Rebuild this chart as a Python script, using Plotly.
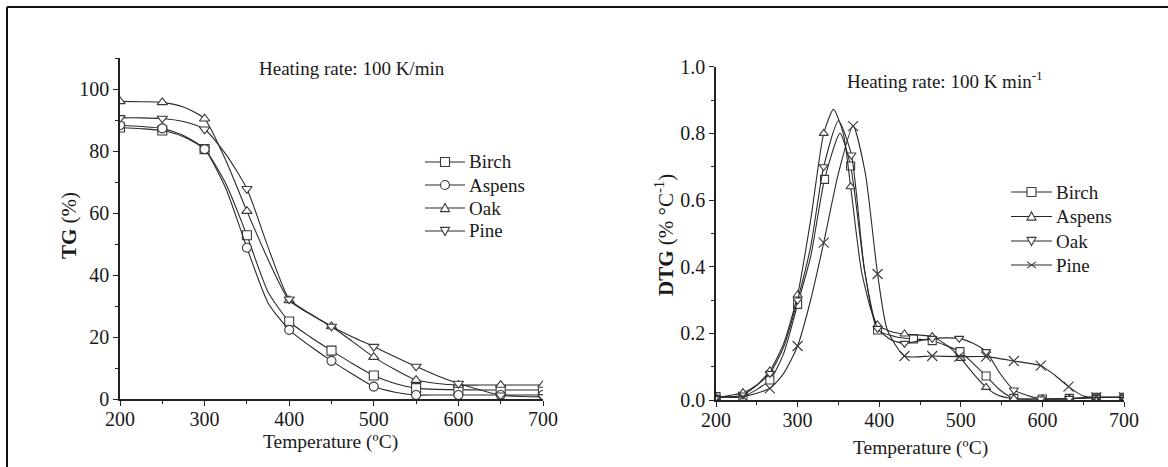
import plotly.graph_objects as go

# ---------------- TG data (left panel) ----------------
tg_T = [200, 225, 250, 275, 300, 325, 350, 375, 400, 425, 450, 475, 500, 525, 550, 575, 600, 625, 650, 675, 700]
tg_birch = [87.6, 87.2, 86.6, 84.6, 80.6, 69.5, 52.8, 34.5, 25.0, 20.0, 15.6, 11.4, 7.6, 5.0, 3.5, 3.1, 3.0, 2.9, 2.9, 2.9, 2.9]
tg_aspens = [88.3, 87.9, 87.3, 85.0, 80.6, 68.0, 48.8, 31.0, 22.3, 17.0, 12.3, 8.0, 4.0, 2.2, 1.3, 1.3, 1.3, 1.3, 1.3, 1.3, 1.3]
tg_oak = [96.0, 95.9, 95.7, 94.2, 90.4, 77.0, 60.6, 45.0, 31.8, 27.3, 23.4, 18.5, 13.5, 9.5, 6.1, 5.0, 4.5, 4.5, 4.5, 4.5, 4.5]
tg_pine = [90.7, 90.7, 90.5, 89.5, 87.0, 79.0, 67.8, 49.0, 32.2, 27.5, 23.4, 20.0, 16.9, 13.6, 10.5, 7.5, 5.0, 3.0, 1.2, 0.8, 0.7]
tg_marker_T = [200, 250, 300, 350, 400, 450, 500, 550, 600, 650, 700]

# ---------------- DTG data (right panel) ----------------
dtg_birch_T = [200, 233, 266, 283, 300, 316, 333, 352, 365, 382, 398, 420, 442, 465, 499, 515, 531, 548, 565, 600, 633, 666, 700]
dtg_birch = [0.01, 0.01, 0.06, 0.14, 0.287, 0.43, 0.662, 0.80, 0.702, 0.39, 0.21, 0.19, 0.183, 0.178, 0.145, 0.11, 0.072, 0.03, 0.005, 0.003, 0.005, 0.008, 0.008]
dtg_birch_marks = [200, 233, 266, 300, 333, 365, 398, 442, 465, 499, 531, 565, 600, 633, 666, 700]

dtg_aspens_T = [200, 233, 250, 266, 283, 300, 316, 332, 344, 356, 365, 378, 390, 398, 415, 431, 465, 485, 500, 515, 531, 545, 565, 600, 633, 666, 700]
dtg_aspens = [0.008, 0.022, 0.045, 0.087, 0.17, 0.315, 0.54, 0.80, 0.872, 0.80, 0.64, 0.39, 0.27, 0.225, 0.205, 0.198, 0.19, 0.16, 0.125, 0.08, 0.038, 0.015, 0.004, 0.003, 0.003, 0.008, 0.008]
dtg_aspens_marks = [200, 233, 266, 300, 332, 365, 398, 431, 465, 500, 531, 565, 600, 633, 666, 700]

dtg_oak_T = [200, 233, 266, 283, 300, 316, 332, 350, 366, 382, 398, 415, 431, 465, 498, 515, 531, 548, 565, 598, 633, 666, 700]
dtg_oak = [0.008, 0.015, 0.08, 0.16, 0.30, 0.46, 0.70, 0.838, 0.735, 0.39, 0.215, 0.18, 0.17, 0.185, 0.185, 0.17, 0.145, 0.08, 0.03, 0.003, 0.005, 0.008, 0.008]
dtg_oak_marks = [200, 233, 266, 300, 332, 366, 398, 431, 465, 498, 531, 565, 598, 633, 666, 700]

dtg_pine_T = [200, 233, 266, 283, 300, 316, 332, 350, 368, 383, 398, 410, 431, 465, 498, 531, 565, 598, 615, 632, 650, 666, 700]
dtg_pine = [0.01, 0.01, 0.035, 0.08, 0.162, 0.30, 0.472, 0.68, 0.822, 0.68, 0.378, 0.21, 0.132, 0.132, 0.13, 0.13, 0.117, 0.103, 0.075, 0.04, 0.012, 0.008, 0.008]
dtg_pine_marks = [233, 266, 300, 332, 368, 398, 431, 465, 498, 531, 565, 598, 632, 666, 700]

legend_names = ["Birch", "Aspens", "Oak", "Pine"]
tg_symbols = ["square", "circle", "triangle-up", "triangle-down"]
dtg_symbols = ["square", "triangle-up", "triangle-down", "x"]

W, H = 1168, 467
FONT = "Liberation Serif, Times New Roman, serif"
LINE_C = "#2a2a2a"
MARK_C = "#3a3a3a"
TXT_C = "#1a1a1a"


def px(x):
    return x / W


def py(y):
    return (H - y) / H


fig = go.Figure()


def add_series(T, V, marks, symbol, xa, ya, size=9):
    fig.add_trace(go.Scatter(
        x=T, y=V, mode="lines", xaxis=xa, yaxis=ya,
        line=dict(color=LINE_C, width=1.1, shape="spline", smoothing=0.6),
        showlegend=False, hoverinfo="skip"))
    mx = [t for t in T if t in marks]
    my = [v for t, v in zip(T, V) if t in marks]
    mk = dict(symbol=symbol, size=size, color="white",
              line=dict(color=MARK_C, width=1.1))
    fig.add_trace(go.Scatter(
        x=mx, y=my, mode="markers", xaxis=xa, yaxis=ya,
        marker=mk, showlegend=False, hoverinfo="skip"))


add_series(tg_T, tg_birch, tg_marker_T, "square", "x", "y")
add_series(tg_T, tg_aspens, tg_marker_T, "circle", "x", "y")
add_series(tg_T, tg_oak, tg_marker_T, "triangle-up", "x", "y")
add_series(tg_T, tg_pine, tg_marker_T, "triangle-down", "x", "y")

add_series(dtg_birch_T, dtg_birch, dtg_birch_marks, "square", "x2", "y2", 8)
add_series(dtg_aspens_T, dtg_aspens, dtg_aspens_marks, "triangle-up", "x2", "y2", 8)
add_series(dtg_oak_T, dtg_oak, dtg_oak_marks, "triangle-down", "x2", "y2", 8)
add_series(dtg_pine_T, dtg_pine, dtg_pine_marks, "x-thin", "x2", "y2", 10)

axis_common = dict(
    showline=True, linecolor="#222", linewidth=1.5, mirror=False,
    ticks="outside", ticklen=5, tickwidth=1.2, tickcolor="#222",
    showgrid=False, zeroline=False, automargin=False,
    tickfont=dict(family=FONT, size=20, color=TXT_C),
)

fig.update_layout(
    width=W, height=H,
    margin=dict(l=0, r=0, t=0, b=0),
    paper_bgcolor="white", plot_bgcolor="white",
    showlegend=False,
    xaxis=dict(domain=[px(120), px(543)], range=[200, 700], anchor="y",
               tickvals=[200, 300, 400, 500, 600, 700], ticklabelstandoff=-4,
               minor=dict(ticks="outside", ticklen=3, dtick=50, tick0=200, tickcolor="#222"),
               **axis_common),
    yaxis=dict(domain=[py(399), py(58)], range=[0, 110], anchor="x",
               tickvals=[0, 20, 40, 60, 80, 100],
               minor=dict(ticks="outside", ticklen=3, dtick=10, tick0=0, tickcolor="#222"),
               **axis_common),
    xaxis2=dict(domain=[px(716), px(1124)], range=[200, 700], anchor="y2",
                tickvals=[200, 300, 400, 500, 600, 700], ticklabelstandoff=-4,
                minor=dict(ticks="outside", ticklen=3, dtick=50, tick0=200, tickcolor="#222"),
                **axis_common),
    yaxis2=dict(domain=[py(400), py(66.7)], range=[0, 1.0], anchor="x2",
                tickvals=[0, 0.2, 0.4, 0.6, 0.8, 1.0], tickformat=".1f",
                minor=dict(ticks="outside", ticklen=3, dtick=0.1, tick0=0, tickcolor="#222"),
                **axis_common),
)

ann_font = dict(family=FONT, size=19, color=TXT_C)


def ann(text, x, y, angle=0, xanchor="center", size=19):
    fig.add_annotation(text=text, xref="paper", yref="paper", x=px(x), y=py(y),
                       xanchor=xanchor, yanchor="middle", textangle=angle,
                       showarrow=False, font=dict(ann_font, size=size))


ann("Heating rate: 100 K/min", 352, 68)
ann("Heating rate: 100 K min<sup>-1</sup>", 945, 80)
ann("Temperature (ºC)", 330, 442, size=19.5)
ann("Temperature (ºC)", 920, 448, size=19.5)
ann("<b>TG</b> (%)", 69, 226, -90, size=21)
ann("<b>DTG</b> (% °C<sup>-1</sup>)", 664, 235, -90, size=21)


# ---------------- hand-drawn legends (pixel layout) ----------------
def legend_symbol(kind, cx, cy, r):
    style = dict(xref="paper", yref="paper", line=dict(color=MARK_C, width=1.1))
    if kind == "square":
        fig.add_shape(type="rect", x0=px(cx - r), x1=px(cx + r), y0=py(cy + r), y1=py(cy - r),
                      fillcolor="white", **style)
    elif kind == "circle":
        fig.add_shape(type="circle", x0=px(cx - r), x1=px(cx + r), y0=py(cy + r), y1=py(cy - r),
                      fillcolor="white", **style)
    elif kind == "triangle-up":
        path = (f"M {px(cx - r)} {py(cy + r * 0.8)} L {px(cx + r)} {py(cy + r * 0.8)} "
                f"L {px(cx)} {py(cy - r)} Z")
        fig.add_shape(type="path", path=path, fillcolor="white", **style)
    elif kind == "triangle-down":
        path = (f"M {px(cx - r)} {py(cy - r * 0.8)} L {px(cx + r)} {py(cy - r * 0.8)} "
                f"L {px(cx)} {py(cy + r)} Z")
        fig.add_shape(type="path", path=path, fillcolor="white", **style)
    elif kind == "x":
        path = (f"M {px(cx - r)} {py(cy - r * 0.7)} L {px(cx + r)} {py(cy + r * 0.7)} "
                f"M {px(cx - r)} {py(cy + r * 0.7)} L {px(cx + r)} {py(cy - r * 0.7)}")
        fig.add_shape(type="path", path=path, **style)


def draw_legend(names, symbols, x0, x1, xt, y_rows, r):
    for name, sym, yy in zip(names, symbols, y_rows):
        fig.add_shape(type="line", xref="paper", yref="paper",
                      x0=px(x0), x1=px(x1), y0=py(yy), y1=py(yy),
                      line=dict(color=LINE_C, width=1.1))
        legend_symbol(sym, (x0 + x1) / 2, yy, r)
        ann(name, xt, yy, xanchor="left")


draw_legend(legend_names, tg_symbols, 425, 465, 467, [162, 185, 208, 231], 4.5)
draw_legend(legend_names, dtg_symbols, 1011, 1052, 1054, [192, 216.5, 241, 265], 4.5)

# outer frame (left and top edges)
fig.add_shape(type="line", xref="paper", yref="paper", x0=px(7), y0=py(7), x1=1, y1=py(7),
              line=dict(color="#111", width=2))
fig.add_shape(type="line", xref="paper", yref="paper", x0=px(7), y0=py(7), x1=px(7), y1=0,
              line=dict(color="#111", width=2))

fig.write_html("out.html")
